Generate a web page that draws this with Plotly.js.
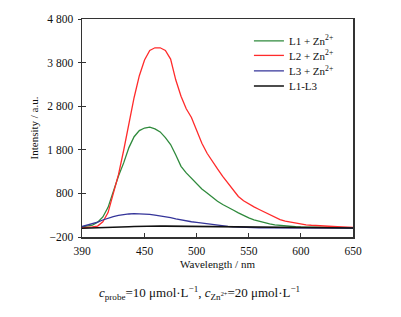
<!DOCTYPE html>
<html><head><meta charset="utf-8">
<script src="https://cdn.plot.ly/plotly-3.0.1.min.js"></script>
<style>html,body{margin:0;padding:0;background:#fff;}</style>
</head><body>
<div id="chart" style="width:401px;height:317px;"></div>
<script>
const wavelength = [390,395,400,405,410,415,420,425,430,435,440,445,450,455,460,465,470,475,480,485,490,495,500,505,510,515,520,525,530,535,540,545,550,555,560,565,570,575,580,585,590,595,600,605,610,615,620,625,630,635,640,645,650];
const seriesNames = ["L1 + Zn<sup>2+</sup>","L2 + Zn<sup>2+</sup>","L3 + Zn<sup>2+</sup>","L1-L3"];
const l1Zn = [30,45,70,140,260,480,850,1200,1500,1850,2100,2240,2300,2320,2280,2210,2080,1920,1680,1420,1270,1140,1010,900,810,710,620,545,490,420,355,295,240,195,160,125,100,80,65,52,42,35,30,26,22,20,18,16,15,14,13,12,12];
const l2Zn = [10,15,30,50,150,360,780,1230,1790,2400,3000,3500,3860,4080,4140,4140,4080,3880,3400,3030,2740,2540,2250,1950,1720,1530,1360,1190,1030,870,730,630,550,490,430,375,320,250,200,165,140,115,95,80,70,60,52,45,40,35,30,27,23];
const l3Zn = [40,70,100,140,190,235,270,295,315,328,335,333,325,318,300,285,268,245,215,190,170,150,135,118,100,85,72,55,42,32,25,20,16,13,11,10,9,9,8,8,8,7,7,7,7,6,6,6,6,5,5,5,5];
const l1l3 = [0,2,5,8,10,15,20,25,30,35,40,45,50,52,52,51,50,49,48,46,45,44,42,40,38,36,35,32,30,28,25,23,22,20,18,17,16,15,14,13,12,11,10,10,9,8,8,7,7,6,6,5,5];
const colors = ["#2f8a3c","#ff2b2b","#35359a","#111111"];
const yTickVals = [-200,800,1800,2800,3800,4800];
const yTickText = ["\u2212200","800","1 800","2 800","3 800","4 800"];
const xTickVals = [390,450,500,550,600,650];

const serif = "Liberation Serif, Times New Roman, serif";
const allY = [l1Zn,l2Zn,l3Zn,l1l3];
const legendIds = ['legend','legend2','legend3','legend4'];
const traces = allY.map((ys,i)=>({
  x: wavelength, y: ys, type:'scatter', mode:'lines', name: seriesNames[i], legend: legendIds[i],
  line:{color:colors[i], width: i===3?1.6:1.3}
}));
traces.push({x:[390],y:[-1000],type:'scatter',mode:'lines',yaxis:'y2',showlegend:false,hoverinfo:'skip',line:{width:0}});

const legRowY = [0.900,0.833,0.762,0.693];
const layout = {
  width:401, height:317,
  margin:{l:82,r:48,t:19,b:80},
  paper_bgcolor:'#fff', plot_bgcolor:'#fff',
  font:{family:serif, size:12, color:'#111'},
  showlegend:true,
  xaxis:{range:[390,650], tickvals:xTickVals, ticktext:xTickVals.map(String), ticks:'inside', ticklen:4, tickwidth:1, tickcolor:'#333',
    showline:true, linecolor:'#333', linewidth:1.5, mirror:true, showgrid:false, zeroline:false,
    ticklabelstandoff:3,
    tickfont:{family:serif,size:11.5,color:'#111'},
    title:{text:'Wavelength / nm', font:{family:serif,size:11,color:'#111'}, standoff:4}},
  yaxis:{range:[-200,4800], tickvals:yTickVals, ticktext:yTickText, ticks:'inside', ticklen:4, tickwidth:1, tickcolor:'#333',
    showline:true, linecolor:'#333', linewidth:1.5, mirror:true, showgrid:false, zeroline:false,
    ticklabelstandoff:5,
    tickfont:{family:serif,size:11.5,color:'#111'},
    title:{text:'Intensity / a.u.', font:{family:serif,size:11,color:'#111'}, standoff:6}},
  yaxis2:{range:[-200,4800], overlaying:'y', side:'left', tickvals:yTickVals, ticks:'outside', ticklen:3, tickwidth:1, tickcolor:'#333',
    showticklabels:false, showline:false, showgrid:false, zeroline:false},
  annotations:[{
    xref:'paper', yref:'paper', x:0.435, y:-0.258, xanchor:'center', yanchor:'middle', showarrow:false,
    text:'<i>c</i><sub>probe</sub>=10 \u03bcmol\u00b7L<sup>\u22121</sup>, <i>c</i><sub>Zn<sup>2+</sup></sub>=20 \u03bcmol\u00b7L<sup>\u22121</sup>',
    font:{family:serif,size:13,color:'#111'}
  }]
};
legendIds.forEach((id,i)=>{
  layout[id] = {x:0.616, y:legRowY[i], xanchor:'left', yanchor:'middle', bgcolor:'rgba(0,0,0,0)',
    font:{family:serif,size:11,color:'#111'}, itemwidth:30};
});
Plotly.newPlot('chart', traces, layout, {displayModeBar:false, staticPlot:true});
</script>
</body></html>
